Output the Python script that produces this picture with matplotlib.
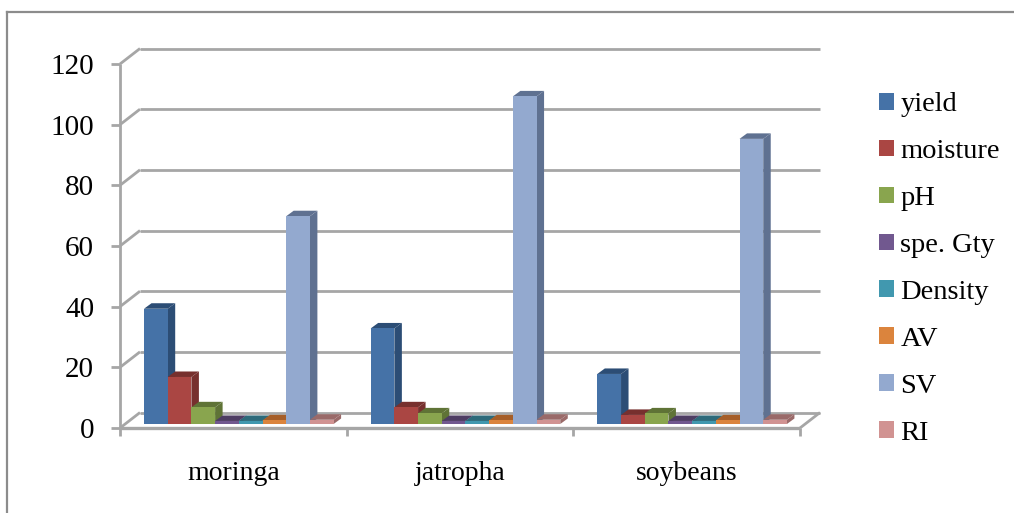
"""Grouped column chart with a pseudo-3D look: oil properties by seed type."""

import matplotlib

matplotlib.use("Agg")
import matplotlib.pyplot as plt
from matplotlib.patches import Patch

plt.rcParams["font.family"] = ["Liberation Serif", "DejaVu Serif"]

WIDTH, HEIGHT = 1014, 513

CROPS = ["moringa", "jatropha", "soybeans"]
PROPS = ["yield", "moisture", "pH", "spe. Gty", "Density", "AV", "SV", "RI"]
YIELD = [38, 31.5, 16.5]
MOISTURE = [15.5, 5.5, 3]
PH = [5.5, 3.5, 3.5]
SPE_GTY = [1.0, 1.0, 1.0]
DENSITY = [1.0, 1.0, 1.0]
AV = [1.2, 1.2, 1.2]
SV = [68.5, 108, 94]
RI = [1.4, 1.4, 1.4]
SERIES = [YIELD, MOISTURE, PH, SPE_GTY, DENSITY, AV, SV, RI]
Y_TICKS = [0, 20, 40, 60, 80, 100, 120]

FRONT = ["#4572A7", "#AA4643", "#89A54E", "#71588F", "#4198AF", "#DB843D", "#93A9CF", "#D19392"]
SIDE = ["#2C4D75", "#77302E", "#5F7336", "#4E3D63", "#2D6A7A", "#A65E28", "#5F7191", "#9A6A69"]
GRID = "#A6A6A6"

# plot box in pixels (front plane of the fake 3D box)
LEFT, RIGHT, BASE, TOP = 120, 800, 428, 64

fig = plt.figure(figsize=(WIDTH / 100, HEIGHT / 100), dpi=100)
ax = fig.add_axes([LEFT / WIDTH, 1 - BASE / HEIGHT, (RIGHT - LEFT) / WIDTH, (BASE - TOP) / HEIGHT])
ax.set_xlim(0, 3)
ax.set_ylim(0, 120)
ax.axis("off")

px_x = 3 / (RIGHT - LEFT)
px_y = 120 / (BASE - TOP)


def line(xs, ys, lw=2.0):
    ax.plot(xs, ys, color=GRID, lw=lw, clip_on=False, solid_capstyle="butt", zorder=1)


# box depth: the back wall sits up and to the right of the front plane
depth_x = 20 * px_x
depth_y = 15.5 * px_y

for tick in Y_TICKS:
    line([0, depth_x], [tick, tick + depth_y])
    line([depth_x, 3 + depth_x], [tick + depth_y, tick + depth_y])
    line([-9 * px_x, 0], [tick, tick])

line([0, 0], [0, 120])
line([0, 3], [0, 0], lw=2.4)
line([3, 3 + depth_x], [0, depth_y])
for i in range(4):
    line([i, i], [0, -8 * px_y])

# columns stand slightly behind the front plane, each with its own side and top
bar_w = 23.7 * px_x
bar_dx = 7.5 * px_x
bar_dy = 5.5 * px_y
start_x = 24 * px_x
lift = 4 * px_y

for g in range(len(CROPS)):
    for s, values in enumerate(SERIES):
        val = values[g]
        x0 = g + start_x + s * bar_w
        x1 = x0 + bar_w
        y0 = lift
        y1 = lift + val
        ax.fill([x1, x1 + bar_dx, x1 + bar_dx, x1], [y0, y0 + bar_dy, y1 + bar_dy, y1],
                color=SIDE[s], lw=0, clip_on=False, zorder=2 + s)
        ax.fill([x0, x1, x1 + bar_dx, x0 + bar_dx], [y1, y1, y1 + bar_dy, y1 + bar_dy],
                color=SIDE[s], lw=0, clip_on=False, zorder=2 + s)
        ax.bar(x0, val, width=bar_w, bottom=y0, align="edge", color=FRONT[s], lw=0,
               clip_on=False, zorder=2 + s)

for tick in Y_TICKS:
    ax.text(-26 * px_x, tick, str(tick), ha="right", va="center_baseline", fontsize=21, color="black")
for i, name in enumerate(CROPS):
    ax.text(i + 0.5, -45 * px_y, name, ha="center", va="center", fontsize=20, color="black")

handles = [Patch(facecolor=c, edgecolor="none", label=p) for c, p in zip(FRONT, PROPS)]
fig.legend(handles=handles, loc="center left", bbox_to_anchor=(879 / WIDTH, 1 - 269 / HEIGHT),
           frameon=False, fontsize=20.5, ncol=1, handlelength=0.53, handleheight=0.53,
           handletextpad=0.22, labelspacing=0.77, borderpad=0, borderaxespad=0)

# outer chart frame: only the top and left edges show
fig.add_artist(plt.Line2D([7 / WIDTH, 7 / WIDTH], [0, 1 - 12 / HEIGHT], color="#8C8C8C", lw=1.6))
fig.add_artist(plt.Line2D([7 / WIDTH, 1], [1 - 12 / HEIGHT, 1 - 12 / HEIGHT], color="#8C8C8C", lw=1.6))

fig.savefig("out.png", dpi=100)
plt.close(fig)
